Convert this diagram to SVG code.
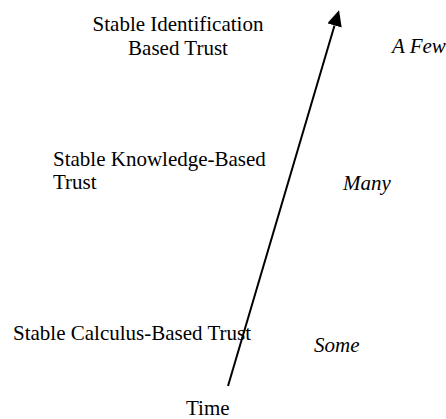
<svg xmlns="http://www.w3.org/2000/svg" width="446" height="419" viewBox="0 0 446 419">
<defs>
<style>
text{font-family:"Liberation Serif","Times New Roman",serif;font-size:21px;fill:#000}
.it{font-style:italic}
.axis{stroke:#000;stroke-width:2;fill:none}
</style>
<marker id="ah" markerUnits="userSpaceOnUse" viewBox="0 -7.5 16 15" markerWidth="16" markerHeight="15" refX="0" refY="0" orient="auto">
<path d="M0,-7.5 L16,0 L0,7.5 z" fill="#000"/>
</marker>
</defs>
<rect width="446" height="419" fill="#fff"/>
<g id="connectors">
<line class="axis" x1="228" y1="386" x2="334.5" y2="25.5" marker-end="url(#ah)"/>
</g>
<g id="identification">
<text x="178" y="31" text-anchor="middle">Stable Identification</text>
<text x="178" y="55" text-anchor="middle">Based Trust</text>
</g>
<g id="afew"><text class="it" x="392" y="53">A Few</text></g>
<g id="knowledge">
<text x="53" y="166">Stable Knowledge-Based</text>
<text x="53" y="189">Trust</text>
</g>
<g id="many"><text class="it" x="343" y="190">Many</text></g>
<g id="calculus"><text x="13" y="340">Stable Calculus-Based Trust</text></g>
<g id="some"><text class="it" x="314" y="352">Some</text></g>
<g id="time"><text x="186" y="415">Time</text></g>
</svg>
